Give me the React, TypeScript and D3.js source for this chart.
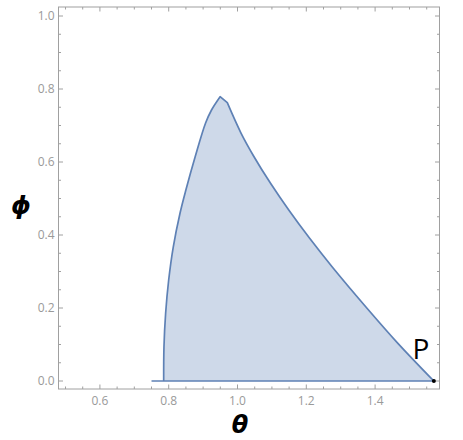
import * as d3 from "d3";

// left boundary of the region, from the base up to the peak (theta, phi)
const leftTheta = [0.7854, 0.7862, 0.7911, 0.7999, 0.8132, 0.833, 0.8499, 0.8767, 0.9072, 0.9244, 0.9494];
const leftPhi = [0, 0.0932, 0.1863, 0.2767, 0.3671, 0.4603, 0.5233, 0.6137, 0.7068, 0.7425, 0.7789];
// right boundary, from the kink below the peak down to P
const rightTheta = [0.9703, 1.0105, 1.048, 1.096, 1.149, 1.2097, 1.2749, 1.3727, 1.4663, 1.5708];
const rightPhi = [0.7625, 0.6786, 0.6145, 0.5416, 0.4685, 0.391, 0.3132, 0.2036, 0.1033, 0];
const baseTheta = [0.75, 1.5708];
const pointP = { theta: 1.5708, phi: 0, label: "P" };

const xTicks = [0.6, 0.8, 1.0, 1.2, 1.4];
const yTicks = [0.0, 0.2, 0.4, 0.6, 0.8, 1.0];
const xMinor = d3.range(0.5, 1.58, 0.05);
const yMinor = d3.range(0, 1.01, 0.05);

const W = 463;
const H = 440;
const frame = { left: 58.5, right: 439.5, top: 7, bottom: 389 };

const lineColor = "#5e81b5";
const axisColor = "#a0a0a0";

export default function App() {
  const x = d3.scaleLinear().domain([0.4796, 1.5872]).range([frame.left, frame.right]);
  const y = d3.scaleLinear().domain([-0.0219, 1.0247]).range([frame.bottom, frame.top]);

  const left = leftTheta.map((t, i) => [t, leftPhi[i]] as [number, number]);
  const right = rightTheta.map((t, i) => [t, rightPhi[i]] as [number, number]);

  const line = d3
    .line<[number, number]>()
    .x((d) => x(d[0]))
    .y((d) => y(d[1]))
    .curve(d3.curveCatmullRom.alpha(0.5));

  // join the two smooth pieces with a straight step at the peak
  const outline = (line(left) || "") + (line(right) || "").replace(/^M/, "L");
  const fillPath = outline + "Z";

  const isMajor = (v: number, list: number[]) => list.some((m) => Math.abs(m - v) < 1e-6);

  return (
    <svg
      width={W}
      height={H}
      style={{ position: "absolute", left: 0, top: 0, background: "#fff" }}
      fontFamily="'Open Sans', 'DejaVu Sans', sans-serif"
    >
      {/* filled region */}
      <path d={fillPath} fill={lineColor} fillOpacity={0.3} stroke="none" />
      <path d={outline} fill="none" stroke={lineColor} strokeWidth={1.7} strokeLinejoin="round" />
      <line
        x1={x(baseTheta[0])}
        x2={x(baseTheta[1])}
        y1={y(0)}
        y2={y(0)}
        stroke={lineColor}
        strokeWidth={1.7}
      />

      {/* frame */}
      <rect
        x={frame.left}
        y={frame.top}
        width={frame.right - frame.left}
        height={frame.bottom - frame.top}
        fill="none"
        stroke={axisColor}
        strokeWidth={1}
      />

      {/* ticks on all four sides */}
      {xMinor.map((v, i) => {
        const len = isMajor(v, xTicks) ? 4.5 : 2.5;
        return (
          <g key={"xt" + i} stroke={axisColor}>
            <line x1={x(v)} x2={x(v)} y1={frame.bottom} y2={frame.bottom - len} />
            <line x1={x(v)} x2={x(v)} y1={frame.top} y2={frame.top + len} />
          </g>
        );
      })}
      {yMinor.map((v, i) => {
        const len = isMajor(v, yTicks) ? 4.5 : 2.5;
        return (
          <g key={"yt" + i} stroke={axisColor}>
            <line x1={frame.left} x2={frame.left + len} y1={y(v)} y2={y(v)} />
            <line x1={frame.right} x2={frame.right - len} y1={y(v)} y2={y(v)} />
          </g>
        );
      })}

      {/* tick labels */}
      {xTicks.map((v) => (
        <text
          key={"xl" + v}
          x={x(v)}
          y={frame.bottom + 16}
          textAnchor="middle"
          fontSize={12}
          fill="#9a9a9a"
        >
          {v.toFixed(1)}
        </text>
      ))}
      {yTicks.map((v) => (
        <text
          key={"yl" + v}
          x={frame.left - 4}
          y={y(v)}
          dy="0.35em"
          textAnchor="end"
          fontSize={12}
          fill="#9a9a9a"
        >
          {v.toFixed(1)}
        </text>
      ))}

      {/* axis labels */}
      <text
        x={240}
        y={433}
        textAnchor="middle"
        fontSize={24}
        fontWeight="bold"
        fontStyle="italic"
        fontFamily="'DejaVu Sans', sans-serif"
        fill="#000"
      >
        θ
      </text>
      <text
        x={21}
        y={214}
        textAnchor="middle"
        fontSize={25}
        fontWeight="bold"
        fontStyle="italic"
        fontFamily="'DejaVu Sans', sans-serif"
        fill="#000"
      >
        ϕ
      </text>

      {/* point P */}
      <circle cx={x(pointP.theta)} cy={y(pointP.phi)} r={2} fill="#000" />
      <text x={421} y={359} textAnchor="middle" fontSize={28} fill="#000">
        {pointP.label}
      </text>
    </svg>
  );
}
